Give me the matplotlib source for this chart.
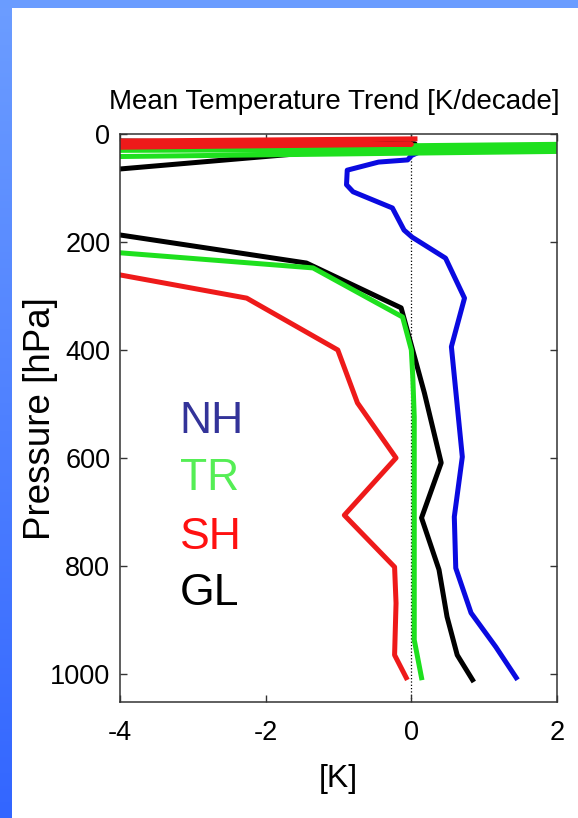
import numpy as np
import matplotlib
matplotlib.use("Agg")
import matplotlib.pyplot as plt
from matplotlib.patches import Rectangle

plt.rcParams["axes.unicode_minus"] = False

# === Dados (tendência [K/decada] x pressão [hPa]) ===
# valores fora do eixo (|x| > 4) representam as tendências extremas da estratosfera
nh_trend = [6.0, 0.2, 0.0, -0.05, -0.45, -0.88, -0.89, -0.80, -0.26, -0.10, 0.01, 0.47, 0.73, 0.55, 0.70, 0.59, 0.61, 0.82, 1.16, 1.44]
nh_pres = [14, 28, 40, 48, 52, 67, 94, 107, 137, 178, 191, 230, 304, 394, 598, 709, 804, 887, 950, 1007]

tr_trend = [6.0, -8.0, 6.0, -8.0, -8.0, -4.0, -1.35, -0.12, 0.0, 0.02, 0.04, 0.04, 0.04, 0.14]
tr_pres = [14, 32, 26, 48, 205, 220, 248, 339, 400, 450, 524, 709, 937, 1007]

sh_trend = [0.05, -8.0, 0.0, -8.0, -8.0, -4.0, -2.26, -1.01, -0.74, -0.21, -0.92, -0.23, -0.21, -0.23, -0.07]
sh_pres = [9, 17, 19, 30, 250, 261, 304, 400, 498, 600, 706, 802, 869, 965, 1007]

gl_trend = [-8.0, 0.05, -8.0, -9.0, -4.0, -1.44, -0.14, 0.18, 0.41, 0.14, 0.38, 0.49, 0.63, 0.84]
gl_pres = [8, 18, 111, 110, 187, 239, 322, 480, 609, 711, 807, 894, 965, 1011]

# nome, x, p, cor da linha, cor do rótulo, ordem de desenho
series = [
    ("NH", nh_trend, nh_pres, "#0a0ae0", "#333399", 2),
    ("TR", tr_trend, tr_pres, "#1ee01e", "#55ee55", 4),
    ("SH", sh_trend, sh_pres, "#ee1a1a", "#ff1111", 5),
    ("GL", gl_trend, gl_pres, "#000000", "#000000", 3),
]

fonte = ["Liberation Sans", "DejaVu Sans"]

fig = plt.figure(figsize=(5.78, 8.18), dpi=100, facecolor="white")

# === moldura azul do slide ===
faixa = fig.add_axes([0, 0, 12 / 578, 1])
grad = np.linspace(0, 1, 256).reshape(-1, 1)
cmap = matplotlib.colors.LinearSegmentedColormap.from_list("borda", ["#6c9dff", "#3366ff"])
faixa.imshow(grad, aspect="auto", cmap=cmap, extent=[0, 1, 0, 1])
faixa.set_axis_off()
fig.add_artist(Rectangle((0, 1 - 8 / 818), 1, 8 / 818, transform=fig.transFigure,
                         facecolor="#6a9cff", edgecolor="none"))

ax = fig.add_axes([120 / 578, 116 / 818, 437 / 578, 568 / 818])

for nome, x, p, cor, cor_txt, z in series:
    ax.plot(x, p, color=cor, lw=3.6, zorder=z)

ax.axvline(0, color="black", ls=":", lw=0.9, zorder=1)

ax.set_xlim(-4, 2)
ax.set_ylim(1052, 0)
ax.set_xticks([-4, -2, 0, 2])
ax.set_yticks([0, 200, 400, 600, 800, 1000])
ax.tick_params(direction="in", length=5, width=1, top=True, right=True, color="#333333")
ax.tick_params(axis="x", pad=13)
ax.tick_params(axis="y", pad=7)
for lab in ax.get_xticklabels() + ax.get_yticklabels():
    lab.set_family(fonte)
    lab.set_fontsize(19.5)
for s in ax.spines.values():
    s.set_color("#333333")
    s.set_linewidth(1.1)
    s.set_zorder(6)

ax.set_title("Mean Temperature Trend [K/decade]", family=fonte, fontsize=20, pad=18, x=0.49)
ax.set_xlabel("[K]", family=fonte, fontsize=23, labelpad=13)
fig.text(41 / 578, 1 - 419 / 818, "Pressure [hPa]", family=fonte, fontsize=26.5,
         rotation=90, ha="center", va="center")

# === rótulos das regiões ===
ylab = [554, 659, 768, 873]
for (nome, x, p, cor, cor_txt, z), yy in zip(series, ylab):
    ax.text(-3.18, yy, nome, color=cor_txt, fontsize=32, family=fonte, va="baseline", ha="left")

fig.savefig("out.png", dpi=100, facecolor="white")
